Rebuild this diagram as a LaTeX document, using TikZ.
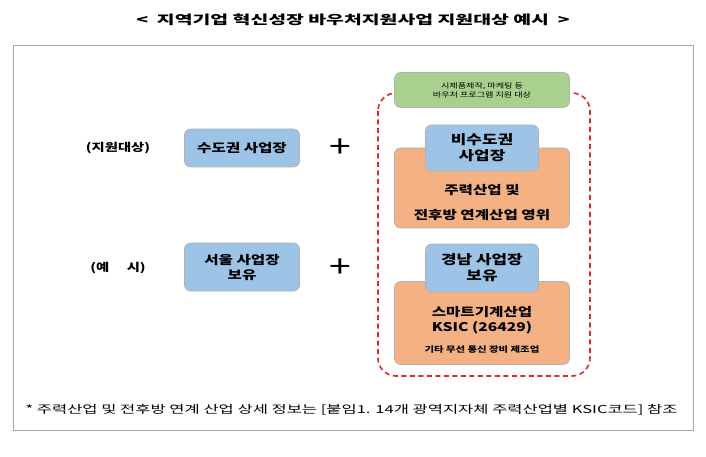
\documentclass[tikz,border=0pt]{standalone}
\usepackage{fontspec}
\setmainfont[FakeStretch=1.3]{Noto Sans CJK KR}
\newfontfamily\titlefont[FakeStretch=1.55]{Noto Sans CJK KR}
\newfontfamily\notefont[FakeStretch=1.5]{Noto Sans CJK KR}
\usetikzlibrary{positioning,calc,backgrounds}
\definecolor{boxblue}{RGB}{157,195,230}
\definecolor{boxorange}{RGB}{244,177,131}
\definecolor{boxgreen}{RGB}{169,209,142}
\definecolor{dashred}{RGB}{220,40,40}
\tikzset{
  box/.style={rounded corners=6pt, draw=gray!60, line width=0.6pt, align=center, inner sep=2pt},
  bluebox/.style={box, fill=boxblue, font=\bfseries\fontsize{12}{15}\selectfont},
  orangebox/.style={box, fill=boxorange},
  label/.style={font=\bfseries\fontsize{11}{13}\selectfont},
  plus/.style={font=\fontsize{30}{30}\selectfont}
}
\begin{document}
\begin{tikzpicture}[x=1pt,y=-1pt]
\useasboundingbox (0,0) rectangle (706,457);

% title and frame
\node[font=\titlefont\bfseries\fontsize{12.5}{14}\selectfont] (title) at (353,20) {<\ \ 지역기업 혁신성장 바우처지원사업 지원대상 예시\ \ >};
\draw[gray!70, line width=0.6pt] (13,45) rectangle (693,430);

% left column
\node[label] (lab1) at (118,148) {(지원대상)};
\node[label] (lab2) at (118,268) {(예\quad\ \ 시)};
\node[bluebox, minimum width=115pt, minimum height=38pt] (home) at (242,148) {수도권 사업장};
\node[bluebox, minimum width=115pt, minimum height=48pt] (seoul) at (242,267) {서울 사업장\\보유};
\node[plus] (plus1) at (340,148) {+};
\node[plus] (plus2) at (340,268) {+};

% right column
\draw[dashred, dash pattern=on 5pt off 3.5pt, line width=1.6pt, rounded corners=18pt] (378,93) rectangle (590,376);
\node[box, fill=boxgreen, minimum width=175pt, minimum height=35pt, font=\fontsize{7}{9}\selectfont] (voucher) at (482,90) {시제품제작, 마케팅 등\\바우처 프로그램 지원 대상};
\node[orangebox, minimum width=175pt, minimum height=80pt] (ind1) at (482,188) {};
\node[font=\bfseries\fontsize{12}{25}\selectfont, align=center] (ind1txt) at (482,203) {주력산업 및\\전후방 연계산업 영위};
\node[bluebox, minimum width=113pt, minimum height=46pt, font=\bfseries\fontsize{13}{16}\selectfont] (nonhome) at (482,148) {비수도권\\사업장};
\node[orangebox, minimum width=175pt, minimum height=83pt] (ind2) at (482,323) {};
\node[font=\bfseries\fontsize{12}{15}\selectfont, align=center] (ksic) at (482,320) {스마트기계산업\\KSIC (26429)};
\node[font=\bfseries\fontsize{8}{10}\selectfont] (ksicsub) at (482,350) {기타 무선 통신 장비 제조업};
\node[bluebox, minimum width=113pt, minimum height=48pt, font=\bfseries\fontsize{13}{16}\selectfont] (gyeongnam) at (482,268) {경남 사업장\\보유};

% footnote
\node[anchor=west, font=\notefont\fontsize{11}{12}\selectfont] (note) at (22,410) {* 주력산업 및 전후방 연계 산업 상세 정보는 [붙임1. 14개 광역지자체 주력산업별 KSIC코드] 참조};
\end{tikzpicture}
\end{document}
